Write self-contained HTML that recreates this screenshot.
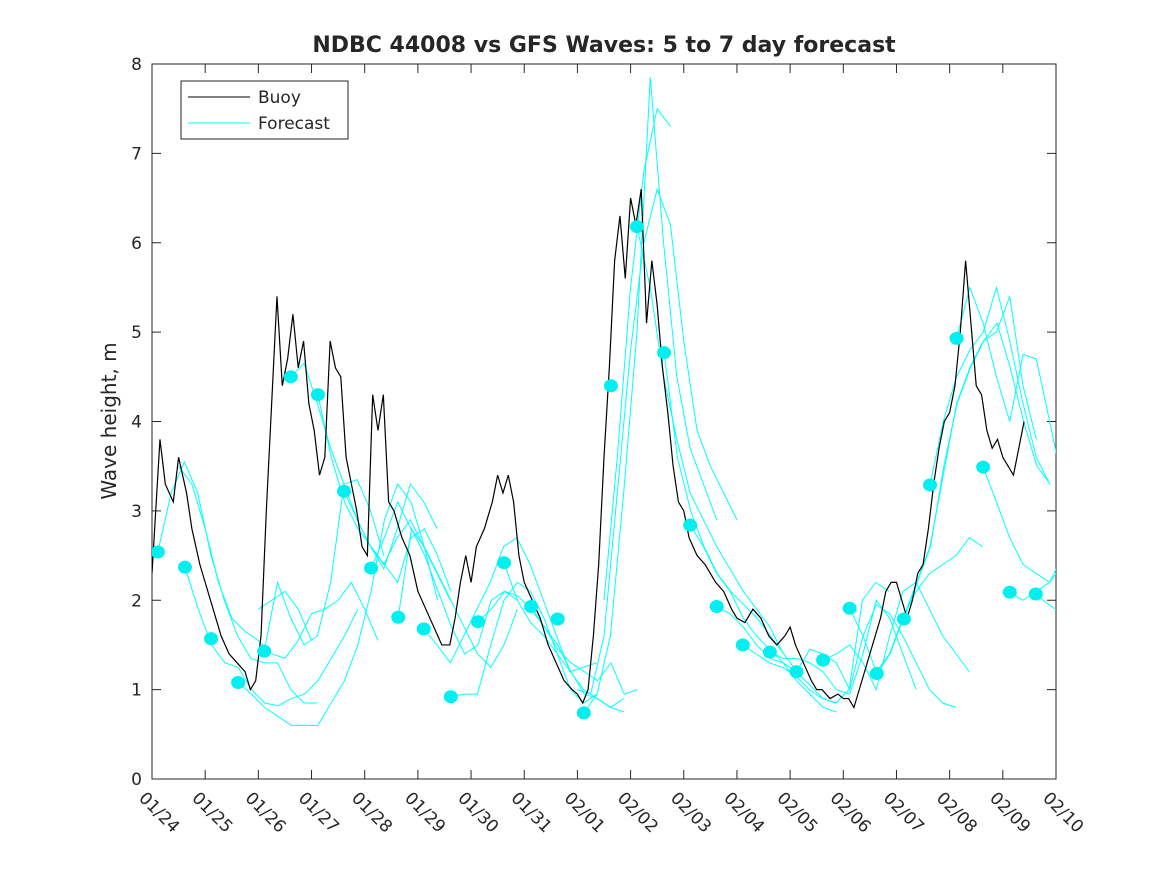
<!DOCTYPE html>
<html><head><meta charset="utf-8"><style>
body{margin:0;background:#fff;}
svg text{font-family:"DejaVu Sans","Liberation Sans",sans-serif;fill:#262626;}
</style></head><body>
<svg id="chart" width="1167" height="875" xmlns="http://www.w3.org/2000/svg">
<rect width="1167" height="875" fill="#fff"/>
<g id="plot"></g>
</svg>
<script>
const xTickLabels=["01/24","01/25","01/26","01/27","01/28","01/29","01/30","01/31","02/01","02/02","02/03","02/04","02/05","02/06","02/07","02/08","02/09","02/10"];
const yTicks=[0,1,2,3,4,5,6,7,8];
const buoyDays=[0,.15,.25,.4,.5,.65,.75,.9,1.0,1.15,1.3,1.45,1.6,1.75,1.85,1.95,2.05,2.15,2.25,2.35,2.45,2.55,2.65,2.75,2.85,2.95,3.05,3.15,3.25,3.35,3.45,3.55,3.65,3.75,3.85,3.95,4.05,4.15,4.25,4.35,4.45,4.55,4.7,4.85,5.0,5.15,5.3,5.45,5.6,5.7,5.8,5.9,6.0,6.1,6.25,6.4,6.5,6.6,6.7,6.8,6.9,7.0,7.15,7.3,7.45,7.6,7.75,7.9,8.0,8.1,8.2,8.3,8.4,8.5,8.6,8.7,8.8,8.9,9.0,9.1,9.2,9.3,9.4,9.5,9.6,9.7,9.8,9.9,10.0,10.1,10.25,10.4,10.5,10.6,10.75,10.9,11.0,11.15,11.3,11.45,11.6,11.75,11.9,12.0,12.1,12.25,12.4,12.5,12.6,12.75,12.9,13.0,13.1,13.2,13.3,13.4,13.5,13.6,13.7,13.8,13.9,14.0,14.1,14.2,14.3,14.4,14.5,14.6,14.7,14.8,14.9,15.0,15.1,15.2,15.3,15.4,15.5,15.6,15.7,15.8,15.9,16.0,16.1,16.2,16.3,16.4];
const buoyVals=[2.3,3.8,3.3,3.1,3.6,3.2,2.8,2.4,2.2,1.9,1.6,1.4,1.3,1.2,1.0,1.1,1.6,3.0,4.2,5.4,4.4,4.7,5.2,4.6,4.9,4.2,3.9,3.4,3.6,4.9,4.6,4.5,3.6,3.3,3.0,2.6,2.5,4.3,3.9,4.3,3.1,3.0,2.7,2.5,2.1,1.9,1.7,1.5,1.5,1.8,2.2,2.5,2.2,2.6,2.8,3.1,3.4,3.2,3.4,3.1,2.5,2.2,2.0,1.8,1.5,1.3,1.1,1.0,0.95,0.85,1.0,1.6,2.4,3.6,4.6,5.8,6.3,5.6,6.5,6.2,6.6,5.1,5.8,5.3,4.6,4.1,3.5,3.1,3.0,2.7,2.5,2.4,2.3,2.2,2.1,1.9,1.8,1.75,1.9,1.8,1.6,1.5,1.6,1.7,1.5,1.3,1.1,1.0,1.0,0.9,0.95,0.9,0.9,0.8,1.0,1.2,1.4,1.6,1.8,2.1,2.2,2.2,2.0,1.8,2.0,2.3,2.4,2.8,3.3,3.7,4.0,4.1,4.4,5.0,5.8,5.1,4.4,4.3,3.9,3.7,3.8,3.6,3.5,3.4,3.7,4.0];
const dotDays=[.11,.62,1.11,1.62,2.11,2.61,3.12,3.61,4.12,4.63,5.11,5.62,6.13,6.62,7.13,7.63,8.12,8.63,9.12,9.63,10.12,10.62,11.11,11.62,12.12,12.62,13.12,13.63,14.14,14.63,15.13,15.63,16.13,16.62];
const dotVals=[2.54,2.37,1.57,1.08,1.43,4.5,4.3,3.22,2.36,1.81,1.68,.92,1.76,2.42,1.93,1.79,.74,4.4,6.18,4.77,2.84,1.93,1.5,1.42,1.2,1.33,1.91,1.18,1.79,3.29,4.93,3.49,2.09,2.07];
const segStarts=[0.11,0.5,0.62,1.62,2.0,2.11,2.61,3.12,3.61,4.12,4.63,5.11,5.62,6.13,6.62,7.13,8.0,8.12,8.5,9.12,9.63,10.12,10.62,11.11,11.62,12.12,12.62,13.12,13.63,14.14,14.63,15.13,15.63,16.13,16.62];
const segVals=[
[2.54,3.2,3.55,3.2,2.5,2.0,1.6,1.35,1.3,1.3,1.0,0.85,0.85],
[3.5,3.3,2.8,2.2,1.8,1.65,1.55,1.4,1.35,1.55,1.85,1.9,2.0,2.2,1.9,1.55],
[2.37,1.9,1.5,1.3,1.25,1.0,0.85,0.82,0.9,0.95,1.1,1.35,1.6,1.9],
[1.08,0.95,0.8,0.7,0.6,0.6,0.6,0.85,1.1,1.5,2.1,2.9,3.3,3.1,2.6,2.0],
[1.9,2.0,2.1,1.9,1.55],
[1.43,2.2,1.8,1.5,1.6,2.2,3.3,3.35,3.0,2.5],
[4.5,4.65,4.2,3.7,3.3,2.9,2.6,2.35,2.8,3.3,3.1,2.8],
[4.3,3.6,3.1,2.8,2.6,2.4,2.2,2.7,2.8,2.5,2.1],
[3.22,2.9,2.6,2.4,2.7,2.9,2.6,2.3,2.0],
[2.36,2.7,3.1,2.8,2.6,2.3,2.0,1.7,1.4,1.25,1.5,1.9],
[1.81,2.8,2.5,2.1,1.7,1.4,1.5,2.0,2.1,2.0],
[1.68,1.5,1.3,1.6,1.9,2.2,2.6,2.7,2.4,2.0,1.6,1.2,1.25,1.3],
[0.92,0.95,0.95,1.5,2.0,2.2,2.1,1.8,1.4,1.0,0.85,0.95],
[1.76,1.9,2.1,2.05,1.9,1.7,1.5,1.2,0.95,0.9,0.8,0.75],
[2.42,2.0,1.75,1.6,1.4,1.2,1.0,0.9,0.8,0.9],
[1.93,1.7,1.45,1.3,1.2,1.1,1.3,0.95,1.0],
[1.0,0.95,1.6,3.2,4.8,6.0,6.6,6.2,4.9,3.9,3.5,3.2,2.9],
[0.74,0.95,1.6,3.2,5.0,7.85,6.0,4.5,3.7,3.3,2.9],
[2.0,3.6,5.5,6.8,7.5,7.3],
[6.18,5.5,4.5,3.8,3.2,2.9,2.6,2.35,2.1,1.9,1.7,1.4],
[4.77,3.6,3.0,2.6,2.3,2.1,1.95,1.8,1.6,1.4,1.2],
[2.84,2.6,2.3,2.1,1.8,1.6,1.45,1.3,1.1,0.95,0.8,0.75],
[1.93,1.85,1.7,1.5,1.35,1.3,1.2,1.05,0.9,0.85],
[1.5,1.4,1.3,1.25,1.15,1.0,0.9,0.85,1.0,2.0,2.2,2.1],
[1.42,1.35,1.35,1.3,1.2,1.0,0.95,1.4,2.0,1.8,1.4,1.0],
[1.2,1.45,1.4,1.3,1.0,1.6,1.95,1.85,1.6,1.3,1.0,0.85,0.8],
[1.33,1.4,1.5,1.3,1.0,1.6,2.1,2.2,1.9,1.6,1.4,1.2],
[1.91,1.6,1.2,1.4,1.8,2.1,2.3,2.4,2.5,2.7,2.6],
[1.18,1.4,1.8,2.2,2.6,3.4,4.2,4.6,4.9,5.0,5.4,4.4,3.8],
[1.79,2.2,2.6,3.5,4.2,4.6,4.9,5.1,4.6,4.0,3.5,3.3],
[3.29,4.0,4.5,4.8,5.0,5.5,4.9,4.2,3.6,3.3],
[4.93,5.5,5.1,4.5,4.0,4.75,4.7,4.0,3.3],
[3.49,3.1,2.7,2.4,2.3,2.2,2.4,2.45],
[2.09,2.0,2.1,2.2,2.5,2.8,2.7,2.65],
[2.07,1.95,1.85,1.75,1.6]
];
const NS="http://www.w3.org/2000/svg";
const L=152,R=1056,T=64,B=779;
const xs=d=>L+d*(R-L)/17;
const ys=v=>B-v*(B-T)/8;
const g=document.getElementById('plot');
function mk(tag,attrs,parent){const e=document.createElementNS(NS,tag);for(const k in attrs)e.setAttribute(k,attrs[k]);(parent||g).appendChild(e);return e;}
const defs=mk('defs',{});const cp=mk('clipPath',{id:'clip'},defs);mk('rect',{x:L,y:T,width:R-L,height:B-T},cp);
const box=mk('rect',{x:L,y:T,width:R-L,height:B-T,fill:'none',stroke:'#262626','stroke-width':1});


yTicks.forEach(v=>{
  const y=ys(v);
  mk('line',{x1:L,x2:L+9,y1:y,y2:y,stroke:'#262626'});
  mk('line',{x1:R,x2:R-9,y1:y,y2:y,stroke:'#262626'});
  const t=mk('text',{x:L-10,y:y+6,'text-anchor':'end','font-size':17});
  t.textContent=v;
  
  
});
xTickLabels.forEach((lab,i)=>{
  const x=xs(i);
  mk('line',{x1:x,x2:x,y1:B,y2:B-9,stroke:'#262626'});
  mk('line',{x1:x,x2:x,y1:T,y2:T+9,stroke:'#262626'});
  const t=mk('text',{x:0,y:0,'font-size':17,transform:`translate(${x-14},${B+20}) rotate(45)`});
  t.textContent=lab;
  
  
});
const fg=mk('g',{'clip-path':'url(#clip)'});
segVals.forEach((vals,i)=>{
  const pts=vals.map((v,j)=>xs(segStarts[i]+j*0.25)+','+ys(v)).join(' ');
  const p=mk('polyline',{points:pts,fill:'none',stroke:'#00ffff','stroke-width':1},fg);
  
  
});
const bp=mk('polyline',{points:buoyDays.map((d,i)=>xs(d)+','+ys(buoyVals[i])).join(' '),fill:'none',stroke:'#000','stroke-width':1.2},fg);


dotDays.forEach((d,i)=>{
  const c=mk('ellipse',{cx:xs(d),cy:ys(dotVals[i]),rx:7,ry:6.5,fill:'#00f0f0'},fg);
  
  
});
const tt=mk('text',{x:604,y:52,'text-anchor':'middle','font-size':22,'font-weight':'bold'});
tt.textContent='NDBC 44008 vs GFS Waves: 5 to 7 day forecast';


const yl=mk('text',{x:0,y:0,'text-anchor':'middle','font-size':20,transform:'translate(116,421) rotate(-90)'});
yl.textContent='Wave height, m';


const lg=mk('g',{});


mk('rect',{x:181,y:81,width:167,height:58,fill:'#fff',stroke:'#262626'},lg);
mk('line',{x1:188,x2:250,y1:97,y2:97,stroke:'#000'},lg);
const l1=mk('text',{x:258,y:103,'font-size':17},lg);l1.textContent='Buoy';


mk('line',{x1:188,x2:250,y1:123,y2:123,stroke:'#00ffff'},lg);
const l2=mk('text',{x:258,y:129,'font-size':17},lg);l2.textContent='Forecast';


</script>
</body></html>
